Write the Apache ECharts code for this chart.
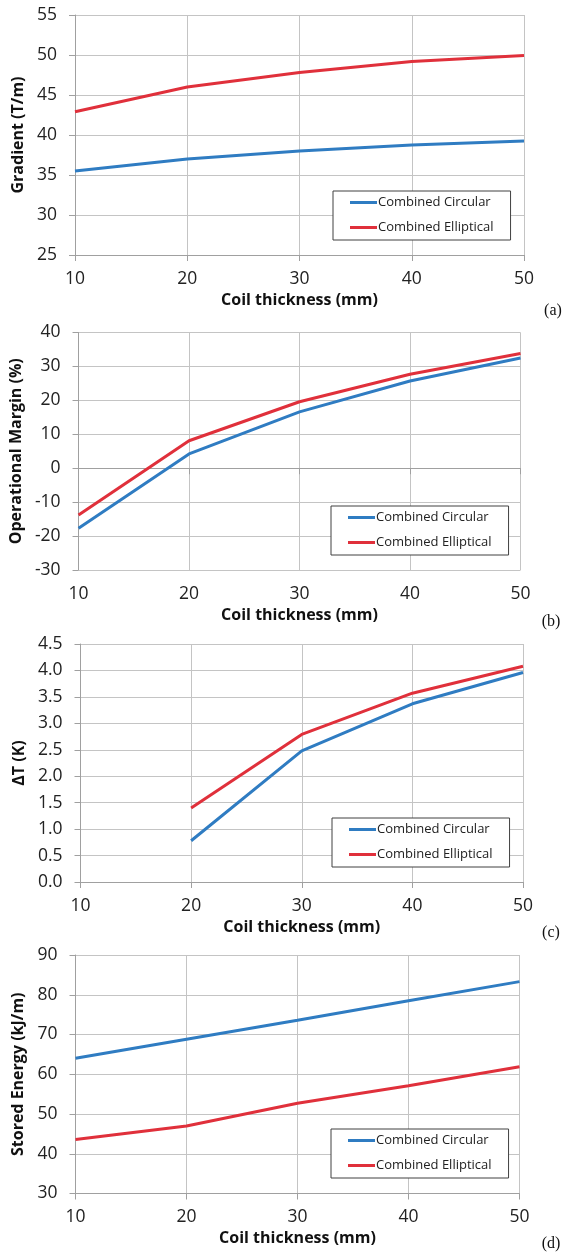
<!DOCTYPE html>
<html>
<head>
<meta charset="utf-8">
<script src="https://cdn.jsdelivr.net/npm/echarts@6/dist/echarts.min.js"></script>
<style>
html,body{margin:0;padding:0;background:#fff;}
#c{width:572px;height:1256px;}
</style>
</head>
<body>
<div id="c"></div>
<script>
// ---- data ----
const thickness = [10, 20, 30, 40, 50];
const seriesNames = ['Combined Circular', 'Combined Elliptical'];

const gradientCircular = [35.5, 37.0, 38.0, 38.75, 39.25];
const gradientElliptical = [42.9, 46.0, 47.8, 49.2, 49.95];

const marginCircular = [-17.7, 4.2, 16.6, 25.7, 32.5];
const marginElliptical = [-13.8, 8.1, 19.6, 27.7, 33.8];

const deltaTCircular = [null, 0.78, 2.48, 3.37, 3.96];
const deltaTElliptical = [null, 1.40, 2.79, 3.57, 4.08];

const energyCircular = [64.0, 68.8, 73.6, 78.5, 83.3];
const energyElliptical = [43.6, 47.0, 52.7, 57.1, 61.9];

const panelNames = ['Gradient (T/m)', 'Operational Margin (%)', '\u0394T (K)', 'Stored Energy (kJ/m)'];
const xTitle = 'Coil thickness (mm)';
const panelLetters = ['(a)', '(b)', '(c)', '(d)'];
const yRanges = [[25, 55, 5], [-30, 40, 10], [0, 4.5, 0.5], [30, 90, 10]];

// ---- layout ----
const grids = [
  {left: 75, top: 15, width: 449, height: 240},
  {left: 75.5, top: 332.5, width: 445, height: 237.5},
  {left: 80.5, top: 644, width: 442.5, height: 238},
  {left: 75.5, top: 955, width: 444, height: 238.5}
];
const legendPos = [[333, 191], [331, 506], [332, 818], [331, 1129]];
const letterPos = [[553, 311], [551, 622], [551, 933], [551, 1244]];

const blue = '#2f7cc2';
const red = '#e0303b';
const font = 'Open Sans';

function pairs(vals) {
  const out = [];
  thickness.forEach((x, i) => { if (vals[i] !== null) out.push([x, vals[i]]); });
  return out;
}
const allData = [
  [gradientCircular, gradientElliptical],
  [marginCircular, marginElliptical],
  [deltaTCircular, deltaTElliptical],
  [energyCircular, energyElliptical]
];

const option = {
  backgroundColor: '#fff',
  animation: false,
  grid: grids.map(g => Object.assign({containLabel: false}, g)),
  xAxis: grids.map((g, i) => ({
    type: 'value', gridIndex: i, min: 10, max: 50, interval: 10,
    name: xTitle, nameLocation: 'middle', nameGap: 37,
    nameTextStyle: {fontFamily: font, fontWeight: 'bold', fontSize: 16, color: '#111'},
    axisLine: {show: true, lineStyle: {color: '#a0a0a0', width: 1}},
    axisTick: {show: true, inside: false, length: 6, lineStyle: {color: '#a0a0a0'}},
    axisLabel: {fontFamily: font, fontSize: 17.5, color: '#222', margin: 15},
    splitLine: {show: true, lineStyle: {color: '#c4c4c4', width: 1}}
  })),
  yAxis: grids.map((g, i) => ({
    type: 'value', gridIndex: i, min: yRanges[i][0], max: yRanges[i][1], interval: yRanges[i][2],
    name: panelNames[i], nameLocation: 'middle', nameGap: 41,
    nameTextStyle: {fontFamily: font, fontWeight: 'bold', fontSize: 16, color: '#111'},
    axisLine: {show: true, lineStyle: {color: '#a0a0a0', width: 1}},
    axisTick: {show: true, inside: false, length: 6, lineStyle: {color: '#a0a0a0'}},
    axisLabel: {fontFamily: font, fontSize: 17.5, color: '#222', margin: 18,
      formatter: v => (i === 2 ? v.toFixed(1) : String(v))},
    splitLine: {show: true, lineStyle: {color: '#c4c4c4', width: 1}}
  })),
  legend: legendPos.map((p, i) => ({
    data: seriesNames, orient: 'vertical', left: p[0], top: p[1],
    icon: 'rect', itemWidth: 27, itemHeight: 3, itemGap: 12,
    padding: [5, 17, 6, 17],
    borderColor: '#404040', borderWidth: 1, backgroundColor: '#fff',
    textStyle: {fontFamily: font, fontSize: 13, color: '#222', padding: [0, 0, 0, -4]},
    selectedMode: false
  })),
  series: [],
  graphic: letterPos.map((p, i) => ({
    type: 'text', x: p[0], y: p[1],
    style: {text: panelLetters[i], font: '16px "Liberation Serif"', fill: '#111', align: 'center', verticalAlign: 'middle'}
  }))
};
allData.forEach((pair, i) => {
  pair.forEach((vals, k) => {
    option.series.push({
      type: 'line', name: seriesNames[k], xAxisIndex: i, yAxisIndex: i,
      data: pairs(vals), symbol: 'none', smooth: false,
      lineStyle: {color: k === 0 ? blue : red, width: 3},
      itemStyle: {color: k === 0 ? blue : red},
      z: k === 0 ? 3 : 2
    });
  });
});
const chart = echarts.init(document.getElementById('c'), null, {renderer: 'canvas'});
chart.setOption(option);
</script>
</body>
</html>
